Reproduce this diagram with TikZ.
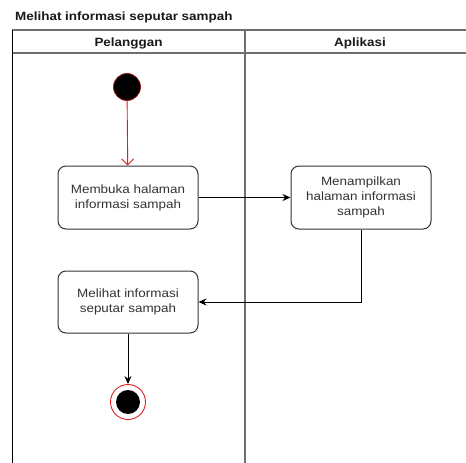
\documentclass[tikz,border=0pt]{standalone}
\usepackage{fontspec}
\setmainfont[FakeStretch=1.12]{Liberation Sans}
\usetikzlibrary{arrows.meta}
\definecolor{lanegray}{HTML}{6E6E6E}
\definecolor{boxline}{HTML}{333333}
\definecolor{txt}{HTML}{333333}
\definecolor{flowred}{HTML}{E02020}
\tikzset{
  lane/.style={draw=lanegray, line width=1.4pt},
  actbox/.style={draw=boxline, line width=1pt, rounded corners=8pt, fill=white,
    minimum width=140pt, minimum height=63pt, align=center, text=txt,
    font=\fontsize{12pt}{15pt}\selectfont},
  flow/.style={draw=black, line width=1pt, -{Stealth[length=8pt,width=7pt]}},
  startflow/.style={draw=flowred, line width=0.9pt, -{Straight Barb[length=6pt,width=12pt]}},
  startdot/.style={circle, fill=black, draw=flowred!70!black, line width=0.8pt,
    minimum size=27pt, inner sep=0pt},
  endring/.style={circle, fill=white, draw=flowred, line width=0.9pt,
    minimum size=35pt, inner sep=0pt},
  enddot/.style={circle, fill=black, minimum size=24pt, inner sep=0pt},
  lanetitle/.style={font=\bfseries\fontsize{12pt}{14pt}\selectfont, text=black!90},
}
\begin{document}
\begin{tikzpicture}[x=1pt,y=-1pt]
\useasboundingbox (0,0) rectangle (466,463);
\fill[white] (0,0) rectangle (466,463);

% diagram title
\node[lanetitle, anchor=base west, inner sep=0pt] (title) at (15,20) {Melihat informasi seputar sampah};

% swimlane frame
\draw[lane] (12.5,463) -- (12.5,30) -- (466,30);
\draw[lane] (12.5,53) -- (466,53);
\draw[lane, line width=1.8pt] (245,30) -- (245,463);
\draw[black, line width=1.2pt] (12.5,30) -- (12.5,463);

% lane headers
\node[lanetitle, anchor=base, inner sep=0pt] (laneA) at (128.5,46.5) {Pelanggan};
\node[lanetitle, anchor=base, inner sep=0pt] (laneB) at (360,46.5) {Aplikasi};

% activity nodes
\node[startdot] (start) at (127,87) {};
\node[actbox] (buka) at (128,197.5) {Membuka halaman\\informasi sampah};
\node[actbox] (tampil) at (361,197.5) {Menampilkan\\halaman informasi\\sampah};
\node[actbox, minimum height=62pt] (lihat) at (128,302) {Melihat informasi\\seputar sampah};
\node[endring] (end) at (128,402) {};
\node[enddot] (endcore) at (128,402) {};

% control flow
\draw[startflow] (start) -- (buka);
\draw[flow] (buka) -- (tampil);
\draw[flow] (tampil.south) |- (lihat.east);
\draw[flow] (lihat) -- (end);
\end{tikzpicture}
\end{document}
